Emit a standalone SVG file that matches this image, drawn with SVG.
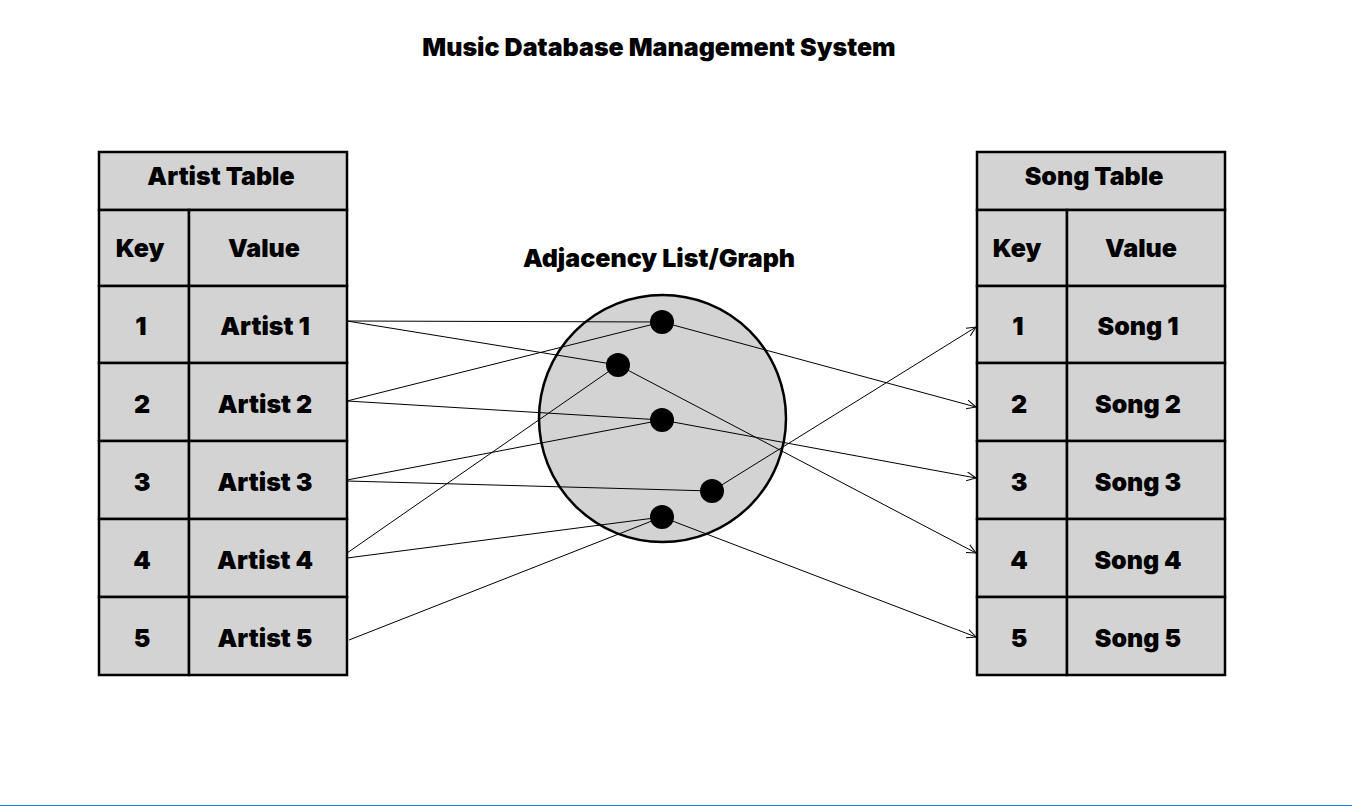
<svg xmlns="http://www.w3.org/2000/svg" width="1352" height="806" viewBox="0 0 1352 806">
<style>
.t{font-family:Inter,"Liberation Sans",sans-serif;font-weight:900;fill:#000;text-anchor:middle;dominant-baseline:central}
.title{font-size:25px}
.h{font-size:25px}
.c{fill:#d3d3d3;stroke:#000;stroke-width:2.5}
.e{stroke:#000;stroke-width:1;fill:none}
.dot{fill:#000}
</style>
<defs>
<marker id="arr" viewBox="0 0 10 10" refX="9.5" refY="5" markerWidth="10" markerHeight="10" markerUnits="userSpaceOnUse" orient="auto">
<path d="M0,0.5 L9.5,5 L0,9.5" fill="none" stroke="#000" stroke-width="1"/>
</marker>
</defs>
<rect width="1352" height="806" fill="#fff"/>
<text class="t title" x="659" y="47">Music Database Management System</text>

<g id="artist-table">
<rect class="c" x="99" y="152" width="248" height="58"/>
<text class="t h" x="221" y="176">Artist Table</text>
<rect class="c" x="99" y="210" width="90" height="76"/>
<rect class="c" x="189" y="210" width="158" height="76"/>
<text class="t h" x="140" y="248">Key</text>
<text class="t h" x="264" y="248">Value</text>
<rect class="c" x="99" y="286" width="90" height="77"/><rect class="c" x="189" y="286" width="158" height="77"/>
<text class="t h" x="141" y="326">1</text><text class="t h" x="265" y="326">Artist 1</text>
<rect class="c" x="99" y="363" width="90" height="78"/><rect class="c" x="189" y="363" width="158" height="78"/>
<text class="t h" x="142" y="404">2</text><text class="t h" x="265" y="404">Artist 2</text>
<rect class="c" x="99" y="441" width="90" height="78"/><rect class="c" x="189" y="441" width="158" height="78"/>
<text class="t h" x="142" y="482">3</text><text class="t h" x="265" y="482">Artist 3</text>
<rect class="c" x="99" y="519" width="90" height="78"/><rect class="c" x="189" y="519" width="158" height="78"/>
<text class="t h" x="142" y="560">4</text><text class="t h" x="265" y="560">Artist 4</text>
<rect class="c" x="99" y="597" width="90" height="78"/><rect class="c" x="189" y="597" width="158" height="78"/>
<text class="t h" x="142" y="638">5</text><text class="t h" x="265" y="638">Artist 5</text>
</g>

<g id="song-table">
<rect class="c" x="977" y="152" width="248" height="58"/>
<text class="t h" x="1094" y="176">Song Table</text>
<rect class="c" x="977" y="210" width="90" height="76"/>
<rect class="c" x="1067" y="210" width="158" height="76"/>
<text class="t h" x="1017" y="248">Key</text>
<text class="t h" x="1141" y="248">Value</text>
<rect class="c" x="977" y="286" width="90" height="77"/><rect class="c" x="1067" y="286" width="158" height="77"/>
<text class="t h" x="1018" y="326">1</text><text class="t h" x="1138" y="326">Song 1</text>
<rect class="c" x="977" y="363" width="90" height="78"/><rect class="c" x="1067" y="363" width="158" height="78"/>
<text class="t h" x="1019" y="404">2</text><text class="t h" x="1138" y="404">Song 2</text>
<rect class="c" x="977" y="441" width="90" height="78"/><rect class="c" x="1067" y="441" width="158" height="78"/>
<text class="t h" x="1019" y="482">3</text><text class="t h" x="1138" y="482">Song 3</text>
<rect class="c" x="977" y="519" width="90" height="78"/><rect class="c" x="1067" y="519" width="158" height="78"/>
<text class="t h" x="1019" y="560">4</text><text class="t h" x="1138" y="560">Song 4</text>
<rect class="c" x="977" y="597" width="90" height="78"/><rect class="c" x="1067" y="597" width="158" height="78"/>
<text class="t h" x="1019" y="638">5</text><text class="t h" x="1138" y="638">Song 5</text>
</g>

<g id="graph">
<text class="t h" x="659" y="258">Adjacency List/Graph</text>
<circle class="c" cx="662.5" cy="418.5" r="123.5"/>
</g>

<g id="connectors">
<line class="e" x1="347" y1="321" x2="662" y2="322"/>
<line class="e" x1="347" y1="321" x2="618" y2="365"/>
<line class="e" x1="347" y1="401" x2="662" y2="322"/>
<line class="e" x1="347" y1="401" x2="662" y2="420"/>
<line class="e" x1="347" y1="480" x2="662" y2="420"/>
<line class="e" x1="347" y1="481" x2="712" y2="491"/>
<line class="e" x1="347" y1="553" x2="618" y2="365"/>
<line class="e" x1="347" y1="558" x2="662" y2="517"/>
<line class="e" x1="349" y1="640" x2="662" y2="517"/>
<line class="e" x1="662" y1="322" x2="976" y2="407" marker-end="url(#arr)"/>
<line class="e" x1="618" y1="365" x2="976" y2="553" marker-end="url(#arr)"/>
<line class="e" x1="662" y1="420" x2="976" y2="478" marker-end="url(#arr)"/>
<line class="e" x1="712" y1="491" x2="976" y2="327" marker-end="url(#arr)"/>
<line class="e" x1="662" y1="517" x2="976" y2="637" marker-end="url(#arr)"/>
</g>

<g id="nodes">
<circle id="nA" class="dot" cx="662" cy="322" r="12"/>
<circle id="nB" class="dot" cx="618" cy="365" r="12"/>
<circle id="nC" class="dot" cx="662" cy="420" r="12"/>
<circle id="nD" class="dot" cx="712" cy="491" r="12"/>
<circle id="nE" class="dot" cx="662" cy="517" r="12"/>
</g>

<line x1="0" y1="805.5" x2="1352" y2="805.5" stroke="#1a80d9" stroke-width="1"/>
</svg>
